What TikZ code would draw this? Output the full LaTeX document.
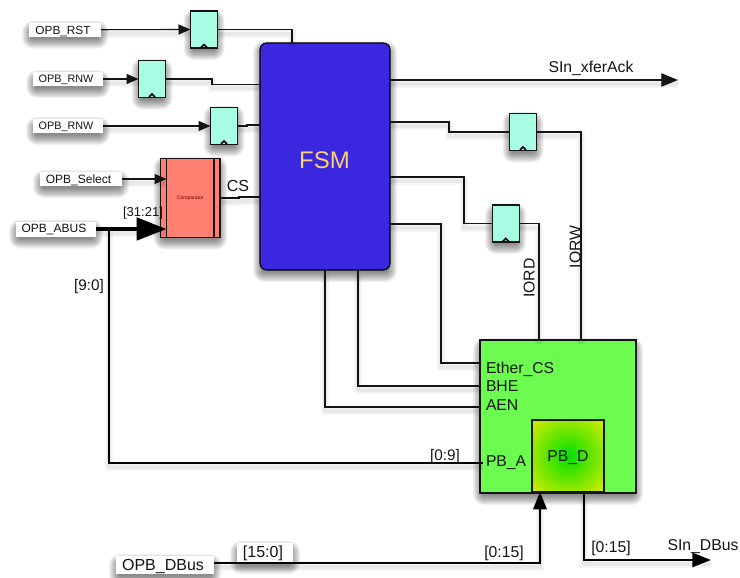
\documentclass[tikz,border=0pt]{standalone}
\usepackage{fontspec}
\setmainfont{Liberation Sans}
\usetikzlibrary{arrows.meta,calc,backgrounds}
\definecolor{ffc}{HTML}{A8FCE4}
\definecolor{cmpc}{HTML}{FF8070}
\definecolor{fsmc}{HTML}{3A28E0}
\definecolor{grc}{HTML}{6CFC50}
\definecolor{fsmt}{HTML}{FFD070}
\definecolor{ln}{HTML}{141414}
\pgfdeclareradialshading{pbd}{\pgfpointorigin}{rgb(0bp)=(0,.88,0); rgb(34bp)=(.82,.92,0); rgb(50bp)=(.82,.92,0)}
\tikzset{
  box/.style 2 args={minimum width=#1*.75pt,minimum height=#2*.75pt,inner sep=0pt,outer sep=0pt,text=ln},
  ffbox/.style={box={27}{37},draw=ln,line width=.85pt,fill=ffc},
  lab/.style 2 args={box={#1}{#2},fill=white},
  fs/.code={\pgfmathsetmacro\capht{.716*#1}\tikzset{font=\fontsize{#1}{#1}\selectfont,text height=\capht pt,text depth=0pt}},
  txt/.style={inner sep=0pt,outer sep=0pt,text=ln,fs=11.8},
  sh/.style={preaction={draw=black,-,opacity=.04,line width=6pt,transform canvas={yshift=-3pt}},
             preaction={draw=black,-,opacity=.05,line width=3pt,transform canvas={yshift=-3pt}}},
  wire/.style={draw=ln,line width=.85pt,sh},
  bus/.style={draw=black,line width=1.9pt,sh},
  tipS/.style={-{Triangle[length=9pt,width=7.5pt]}},
}
\newcommand{\softshadow}[1]{%
  \foreach \e in {-3,...,7}{
    \fill[black,opacity=.05,rounded corners={(\e+4)*.75pt}] ($(#1.north west)+(-\e,5-\e)$) rectangle ($(#1.south east)+(\e,5+\e)$);
  }}
\begin{document}
\begin{tikzpicture}[x=.75pt,y=-.75pt]
\useasboundingbox (0,0) rectangle (740,578);
% blocks
\node[ffbox] (ff1) at (204,29.5) {};
\node[ffbox] (ff2) at (152,79) {};
\node[ffbox] (ff3) at (224,126) {};
\node[ffbox] (ff4) at (523,132) {};
\node[ffbox] (ff5) at (505.7,223.5) {};
\node[box={59.5}{79},draw=ln,line width=.85pt,fill=cmpc] (cmp) at (190.3,198) {};
\node[box={130}{227},draw=black,line width=.85pt,fill=fsmc,rounded corners=5pt] (fsm) at (325,156.5) {};
\node[box={156}{153},draw=ln,line width=.85pt,fill=grc] (eth) at (558,416.5) {};
\node[box={72}{72},draw=ln,line width=.85pt,shading=pbd] (pbd) at (568,456) {};
\node[lab={72}{14}] (lrst) at (65,29.7) {};
\node[lab={70}{14}] (lrnwa) at (68,79) {};
\node[lab={70}{14}] (lrnwb) at (68,126) {};
\node[lab={82}{14}] (lsel) at (81,179) {};
\node[lab={80}{15}] (labus) at (56,229) {};
\node[lab={98}{18}] (ldbus) at (165,565) {};
\node[lab={56}{19}] (l150) at (265,552.5) {};
\begin{scope}[on background layer]
  \fill[white] (0,0) rectangle (740,578);
  \foreach \n in {ff1,ff2,ff3,ff4,ff5,cmp,fsm,eth,lrst,lrnwa,lrnwb,lsel,labus,ldbus,l150}{\softshadow{\n}}
\end{scope}
% wires
\draw[wire,tipS] (lrst.east) -- (ff1.west);
\draw[wire] (ff1.east) -| (fsm.north -| 292,0);
\draw[wire,tipS] (lrnwa.east) -- (ff2.west);
\draw[wire] (ff2.east) -- (212,79) -- (212,84.3) -- (fsm.west |- 0,84.3);
\draw[wire,tipS] (lrnwb.east) -- (ff3.west);
\draw[wire] (ff3.east) -- (247,126) -- (247,125) -- (fsm.west |- 0,125);
\draw[wire,tipS] (lsel.east) -- ($(cmp.west |- lsel.east)+(6,0)$);
\draw[wire] (cmp.east) -- (239,198) -- (239,197) -- (fsm.west |- 0,197);
\draw[wire,-{Triangle[length=12.5pt,width=10pt]}] (fsm.east |- 0,80) -- (678,80);
\draw[wire] (fsm.east |- 0,122) -- (449,122) -- (449,132) -- (ff4.west);
\draw[wire] (ff4.east) -- (581,132) -- (eth.north -| 581,0);
\draw[wire] (fsm.east |- 0,177) -- (464,177) -- (464,223.5) -- (ff5.west);
\draw[wire] (ff5.east) -- (539,223.5) -- (eth.north -| 539,0);
\draw[wire] (fsm.east |- 0,224) -- (441,224) -- (441,363) -- (eth.west |- 0,363);
\draw[wire] (fsm.south -| 358,0) -- (358,386) -- (eth.west |- 0,386);
\draw[wire] (fsm.south -| 325,0) -- (325,407) -- (eth.west |- 0,407);
% buses
\draw[draw=black,line width=3.7pt,sh,-{Triangle[length=22.5pt,width=16.5pt]}] (labus.east) -- ($(cmp.west |- labus.east)+(6,0)$);
\draw[bus] (109,229) -- (109,463) -- (483,463);
\draw[bus,-{Triangle[length=13pt,width=10pt]}] (ldbus.east |- 0,563) -- (540,563) -- (pbd.south -| 540,0);
\draw[bus,-{Triangle[length=14pt,width=10.5pt]}] (eth.south -| 584,0) -- (584,560) -- (711,560);
% block details
\draw[line width=.9pt,ln] ($(cmp.north west)+(6,0)$) -- ($(cmp.south west)+(6,0)$);
\draw[line width=.9pt,ln] ($(cmp.north east)+(-6,0)$) -- ($(cmp.south east)+(-6,0)$);
\foreach \n in {ff1,ff2,ff3,ff4,ff5}{
  \draw[line width=1.2pt,black] ($(\n.south)+(-3,-.5)$) -- ($(\n.south)+(0,-3.5)$) -- ($(\n.south)+(3,-.5)$);
}
% labels
\node[lab={56}{19}] at (l150) {};
\node[txt,fs=8.85] at (63,30) {OPB\_RST};
\node[txt,fs=8.1] at (66,78.5) {OPB\_RNW};
\node[txt,fs=8.1] at (66,125.5) {OPB\_RNW};
\node[txt,fs=9] at (78.5,179) {OPB\_Select};
\node[txt,fs=9] at (54,228.5) {OPB\_ABUS};
\node[txt,fs=12] at (163,565) {OPB\_DBus};
\node[txt,fs=12] at (263,552) {[15:0]};
\node[txt,fs=11.5] at (89,285) {[9:0]};
\node[txt,fs=9.75] at (143,212) {[31:21]};
\node[txt,fs=3.8,text=red!45!black] at (cmp) {Comparator};
\node[txt,fs=12] at (238,185.5) {CS};
\node[txt,text=fsmt,fs=18] at (324.5,159.5) {FSM};
\node[txt] at (591,67) {SIn\_xferAck};
\node[txt,rotate=90] at (529,278) {IORD};
\node[txt,rotate=90] at (575,247) {IORW};
\node[txt,anchor=west] at (486,367.5) {Ether\_CS};
\node[txt,anchor=west] at (486,386) {BHE};
\node[txt,anchor=west] at (486,404.5) {AEN};
\node[txt,anchor=west] at (486,460.5) {PB\_A};
\node[txt] at (pbd) {PB\_D};
\node[txt,fs=11.5] at (445,455) {[0:9]};
\node[txt] at (504,552) {[0:15]};
\node[txt] at (611,547) {[0:15]};
\node[txt] at (703,545) {SIn\_DBus};
\end{tikzpicture}
\end{document}
